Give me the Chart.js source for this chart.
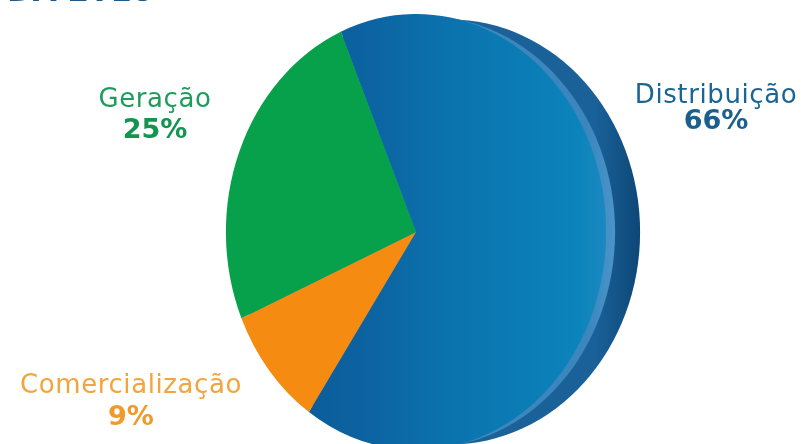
<!DOCTYPE html>
<html>
<head>
<meta charset="utf-8">
<script src="https://cdn.jsdelivr.net/npm/chart.js@4.4.1/dist/chart.umd.min.js"></script>
<style>
  html, body { margin: 0; padding: 0; background: #ffffff; overflow: hidden; }
  #wrap { position: relative; width: 810px; height: 444px; overflow: hidden; }
  #c { position: absolute; left: 0; top: 0; }
</style>
</head>
<body>
<div id="wrap"><canvas id="c" width="810" height="470"></canvas></div>
<script>
// ---- data ----
const categories = ['Distribuição', 'Comercialização', 'Geração'];
const shares = [66, 9, 25];
const titleText = 'DA 2T10';

// ---- styles ----
const sliceColors = ['#0b6ea8', '#f68b12', '#07a04b'];
const textColors = ['#1b6593', '#f3a43c', '#1e9c5c'];
const pctColors  = ['#1a5f8e', '#f09a2a', '#12964f'];
const labelPos = [ // [x, baselineName, baselinePct]
  [716, 103, 129],
  [131, 393, 425],
  [155, 107, 138]
];
const SX = 0.872;       // horizontal squeeze (tilted pie)
const RIM_DX = 34;      // depth of the side rim

function blueGradient(chart) {
  const ca = chart.chartArea;
  if (!ca || !isFinite(ca.left)) return sliceColors[0];
  const cx = (ca.left + ca.right) / 2;
  const r = Math.min(ca.right - ca.left, ca.bottom - ca.top) / 2;
  const g = chart.ctx.createLinearGradient(cx - r, 0, cx + r, 0);
  g.addColorStop(0, '#0a5690');
  g.addColorStop(0.35, '#0c62a0');
  g.addColorStop(0.6, '#0b73ae');
  g.addColorStop(0.93, '#0b84bb');
  g.addColorStop(1, '#1c88c0');
  return g;
}

const ellipsePlugin = {
  id: 'ellipse',
  beforeDatasetsDraw(chart) {
    const ctx = chart.ctx;
    const a = chart.getDatasetMeta(0).data[0];
    const cx = a.x, cy = a.y, r = a.outerRadius;
    ctx.save();
    // outer side rim (back of the disc)
    const rg = ctx.createLinearGradient(cx, 0, cx + r * SX + RIM_DX, 0);
    rg.addColorStop(0, '#1d6299');
    rg.addColorStop(0.8, '#1a6199');
    rg.addColorStop(1, '#0d4777');
    ctx.fillStyle = rg;
    ctx.beginPath();
    ctx.ellipse(cx + RIM_DX, cy, r * SX, r * 0.975, 0, 0, Math.PI * 2);
    ctx.fill();
    // light strip next to the face edge
    const hg = ctx.createLinearGradient(cx + r * SX - 20, 0, cx + r * SX + 10, 0);
    hg.addColorStop(0, '#3a86bd');
    hg.addColorStop(1, '#4a95c9');
    ctx.fillStyle = hg;
    ctx.beginPath();
    ctx.ellipse(cx + 9, cy, r * SX, r * 0.99, 0, 0, Math.PI * 2);
    ctx.fill();
    ctx.restore();
    // squeeze the face
    ctx.save();
    ctx.translate(cx, cy);
    ctx.scale(SX, 1);
    ctx.translate(-cx, -cy);
  },
  afterDatasetsDraw(chart) {
    chart.ctx.restore();
  },
  afterDraw(chart) {
    const ctx = chart.ctx;
    ctx.save();
    ctx.textAlign = 'center';
    ctx.textBaseline = 'alphabetic';
    categories.forEach((name, i) => {
      const [x, y1, y2] = labelPos[i];
      ctx.fillStyle = textColors[i];
      ctx.font = '26px "DejaVu Sans"';
      ctx.letterSpacing = '0.6px';
      ctx.fillText(name, x, y1);
      ctx.letterSpacing = '0px';
      ctx.fillStyle = pctColors[i];
      ctx.font = 'bold 27px "DejaVu Sans"';
      ctx.fillText(shares[i] + '%', x, y2);
    });
    ctx.textAlign = 'left';
    ctx.fillStyle = '#1d5b8c';
    ctx.font = 'bold 31px "DejaVu Sans"';
    ctx.fillText(titleText, 7, 1);
    ctx.restore();
  }
};

new Chart(document.getElementById('c'), {
  type: 'pie',
  data: {
    labels: categories,
    datasets: [{
      data: shares,
      backgroundColor: (c) => c.dataIndex === 0 ? blueGradient(c.chart) : sliceColors[c.dataIndex],
      borderWidth: 0,
      hoverOffset: 0
    }]
  },
  options: {
    responsive: false,
    animation: false,
    rotation: -23.3,
    layout: { padding: { left: 198, right: 176, top: 14, bottom: 20 } },
    plugins: { legend: { display: false }, tooltip: { enabled: false } },
    events: []
  },
  plugins: [ellipsePlugin]
});
</script>
</body>
</html>
